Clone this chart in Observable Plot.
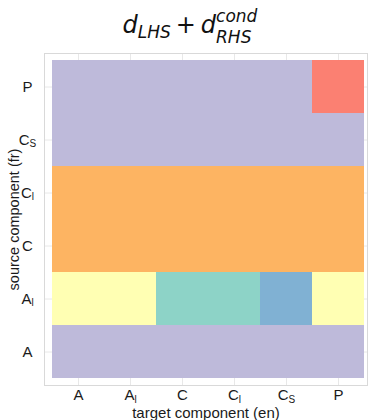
<!DOCTYPE html>
<html><head><meta charset="utf-8">
<script src="https://cdn.jsdelivr.net/npm/d3@7"></script>
<script src="https://cdn.jsdelivr.net/npm/@observablehq/plot@0.6"></script>
<style>body{margin:0;background:#fff} svg{display:block}</style>
</head><body><div id="chart"></div>
<script>
// categories (target columns, source rows)
const components = ["A", "A_l", "C", "C_l", "C_S", "P"];
// class index per cell: each array is one source row, values across target columns
const rowA  = [2, 2, 2, 2, 2, 2];
const rowAl = [1, 1, 0, 0, 4, 1];
const rowC  = [5, 5, 5, 5, 5, 5];
const rowCl = [5, 5, 5, 5, 5, 5];
const rowCS = [2, 2, 2, 2, 2, 2];
const rowP  = [2, 2, 2, 2, 2, 3];
const classColors = ["#8dd3c7", "#ffffb3", "#bebada", "#fb8072", "#80b1d3", "#fdb462"];

const rows = {A: rowA, A_l: rowAl, C: rowC, C_l: rowCl, C_S: rowCS, P: rowP};
const cells = [];
for (const s of components) rows[s].forEach((v, j) => cells.push({source: s, target: components[j], cls: v}));

const font = "'Liberation Sans', Arial, sans-serif";
const chart = Plot.plot({
  width: 369,
  height: 420,
  marginLeft: 44,
  marginRight: 2,
  marginTop: 53,
  marginBottom: 35,
  style: {fontFamily: font, background: "#fff", color: "#1a1a1a"},
  x: {domain: components, padding: 0, insetLeft: 6, insetRight: 2},
  y: {domain: components.slice().reverse(), padding: 0, insetTop: 5, insetBottom: 6},
  color: {type: "ordinal", domain: d3.range(classColors.length), range: classColors},
  marks: [
    Plot.gridX({stroke: "#e8e8e8", strokeOpacity: 1}),
    Plot.gridY({stroke: "#e8e8e8", strokeOpacity: 1}),
    Plot.frame({stroke: "#d9d9d9"}),
    Plot.cell(cells, {x: "target", y: "source", fill: "cls"}),
    Plot.axisX({tickSize: 0, tickPadding: 4, fontSize: 15, label: null}),
    Plot.axisY({tickSize: 0, tickPadding: 17, fontSize: 15, label: null, textAnchor: "middle"}),
    Plot.text(["target component (en)"], {frameAnchor: "bottom", dy: 28, fontSize: 15, textAnchor: "middle", lineAnchor: "middle"}),
    Plot.text(["source component (fr)"], {frameAnchor: "left", dx: -30, rotate: -90, fontSize: 14.5, textAnchor: "middle", lineAnchor: "middle"})
  ]
});
document.getElementById("chart").appendChild(chart);

// subscripts in tick labels
d3.select(chart).selectAll("text").each(function() {
  const t = this.textContent;
  if (!/^[A-Z]_[A-Za-z]+$/.test(t)) return;
  const [base, sub] = t.split("_");
  const el = d3.select(this);
  el.text(null);
  el.append("tspan").text(base);
  el.append("tspan").attr("font-size", 10).attr("dy", 2.5).text(sub);
});

// title d_{LHS} + d_{RHS}^{cond}
const svg = d3.select(chart);
const title = svg.append("text")
  .attr("x", 0).attr("y", 33)
  .attr("font-family", "'DejaVu Sans', sans-serif")
  .attr("font-size", 24).attr("fill", "#111");
title.append("tspan").attr("font-style", "italic").text("d");
title.append("tspan").attr("font-style", "italic").attr("font-size", 17).attr("dy", 5).text("LHS");
title.append("tspan").attr("dy", -5).attr("dx", 5).text("+");
title.append("tspan").attr("font-style", "italic").attr("dx", 5).text("d");
const cond = title.append("tspan").attr("font-style", "italic").attr("font-size", 17).attr("dy", -11).text("cond");
const wc = cond.node().getComputedTextLength();
title.append("tspan").attr("font-style", "italic").attr("font-size", 17).attr("dy", 21).attr("dx", -wc).text("RHS");
const bb = title.node().getBBox();
title.attr("x", 190 - bb.width / 2 - bb.x);
</script>
</body></html>
